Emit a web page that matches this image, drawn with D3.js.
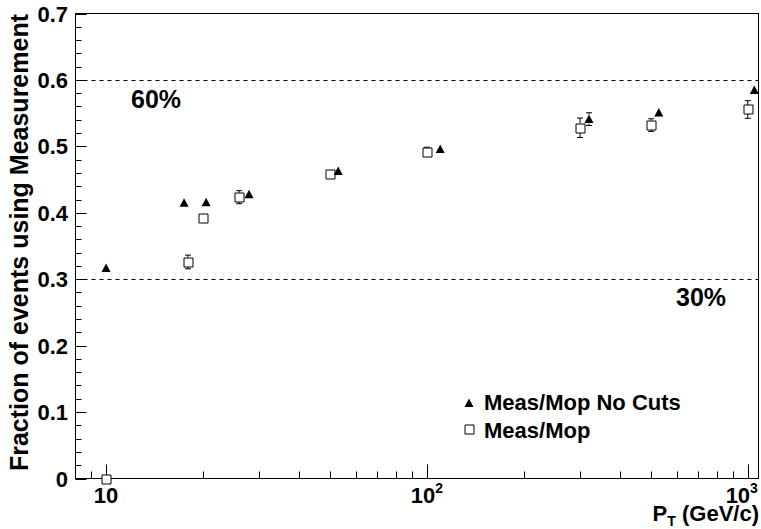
<!DOCTYPE html>
<html>
<head>
<meta charset="utf-8">
<script src="https://cdn.jsdelivr.net/npm/d3@7"></script>
<style>
  html, body { margin: 0; padding: 0; background: #fff; }
  svg { display: block; }
  text { font-family: "Liberation Sans", Arial, Helvetica, sans-serif; font-weight: bold; fill: #000; }
</style>
</head>
<body>
<svg id="chart" width="761" height="529"></svg>
<script>
// Fraction of events using the measurement vs. transverse momentum
const ptNoCuts   = [10, 17.5, 20.5, 27.9, 52.9, 110, 320, 528, 1048];
const fracNoCuts = [0.317, 0.415, 0.416, 0.428, 0.463, 0.496, 0.541, 0.551, 0.585];
const errNoCuts  = [0.003, 0.004, 0.004, 0.004, 0.004, 0.005, 0.0095, 0.006, 0.006];

const ptMop   = [10, 18, 20, 26, 50, 100, 300, 500, 1000];
const fracMop = [0, 0.326, 0.392, 0.4235, 0.459, 0.4917, 0.528, 0.532, 0.5555];
const errMop  = [0, 0.0103, 0.005, 0.0098, 0.006, 0.007, 0.0146, 0.0095, 0.0133];

const refLevels = [0.6, 0.3];
const refLabels = ["60%", "30%"];

const yTicks = [0, 0.1, 0.2, 0.3, 0.4, 0.5, 0.6, 0.7];
const yTickLabels = ["0", "0.1", "0.2", "0.3", "0.4", "0.5", "0.6", "0.7"];
const xMajor = [10, 100, 1000];
const xMajorBase = ["10", "10", "10"];
const xMajorExp = ["", "2", "3"];
const xMinor = [9, 20, 30, 40, 50, 60, 70, 80, 90, 200, 300, 400, 500, 600, 700, 800, 900];

const legendNames = ["Meas/Mop No Cuts", "Meas/Mop"];

const svg = d3.select("#chart");
const L = 75.5, R = 758.5, T = 13.5, B = 478.5;

const x = d3.scaleLog().domain([8.03, 1080]).range([L, R]);
const y = d3.scaleLinear().domain([0, 0.7]).range([B, T]);

// frame
svg.append("rect").attr("x", L).attr("y", T).attr("width", R - L).attr("height", B - T)
  .attr("fill", "none").attr("stroke", "#000").attr("stroke-width", 1);

// y axis ticks (major 0.1, minor 0.02)
const yMinor = d3.range(0, 0.7001, 0.02).filter(v => Math.abs(v * 10 - Math.round(v * 10)) > 1e-6);
const gy = svg.append("g");
gy.selectAll("line.maj").data(yTicks).join("line")
  .attr("x1", L).attr("x2", L + 11)
  .attr("y1", d => Math.round(y(d)) + 0.5).attr("y2", d => Math.round(y(d)) + 0.5)
  .attr("stroke", "#000");
gy.selectAll("line.min").data(yMinor).join("line")
  .attr("x1", L).attr("x2", L + 6)
  .attr("y1", d => Math.round(y(d)) + 0.5).attr("y2", d => Math.round(y(d)) + 0.5)
  .attr("stroke", "#000");
gy.selectAll("text").data(yTicks).join("text")
  .attr("x", 68).attr("y", d => y(d) + 8)
  .attr("text-anchor", "end").attr("font-size", 22)
  .text((d, i) => yTickLabels[i]);

// x axis ticks (log)
const gx = svg.append("g");
gx.selectAll("line.maj").data(xMajor).join("line")
  .attr("x1", d => Math.round(x(d)) + 0.5).attr("x2", d => Math.round(x(d)) + 0.5)
  .attr("y1", B).attr("y2", B - 14).attr("stroke", "#000");
gx.selectAll("line.min").data(xMinor).join("line")
  .attr("x1", d => Math.round(x(d)) + 0.5).attr("x2", d => Math.round(x(d)) + 0.5)
  .attr("y1", B).attr("y2", B - 7).attr("stroke", "#000");
const xl = gx.selectAll("text").data(xMajor).join("text")
  .attr("x", (d, i) => x(d) + (i === 2 ? -6 : 0)).attr("y", 503)
  .attr("text-anchor", "middle").attr("font-size", 22);
xl.append("tspan").text((d, i) => xMajorBase[i]);
xl.append("tspan").attr("font-size", 14).attr("dy", -10).text((d, i) => xMajorExp[i]);

// axis titles
const xt = svg.append("text").attr("x", 759).attr("y", 521).attr("text-anchor", "end").attr("font-size", 22);
xt.append("tspan").text("P");
xt.append("tspan").attr("font-size", 14).attr("dy", 5).text("T");
xt.append("tspan").attr("dy", -5).text(" (GeV/c)");

svg.append("text")
  .attr("transform", "translate(28,14) rotate(-90)")
  .attr("text-anchor", "end").attr("font-size", 25)
  .text("Fraction of events using Measurement");

// reference levels
svg.selectAll("line.ref").data(refLevels).join("line")
  .attr("x1", L).attr("x2", R)
  .attr("y1", d => Math.round(y(d)) + 0.5).attr("y2", d => Math.round(y(d)) + 0.5)
  .attr("stroke", "#000").attr("stroke-dasharray", "4,4");
svg.append("text").attr("x", 131).attr("y", y(refLevels[0]) + 28).attr("font-size", 25).text(refLabels[0]);
svg.append("text").attr("x", 676).attr("y", y(refLevels[1]) + 27).attr("font-size", 25).text(refLabels[1]);

// error bars drawn outside the marker, with small caps
const half = 4.5;
function errorBars(g, xs, vs, es) {
  xs.forEach((p, i) => {
    const cx = x(p), cy = y(vs[i]);
    const top = y(vs[i] + es[i]), bot = Math.min(y(vs[i] - es[i]), B);
    if (cy - top > half) {
      g.append("line").attr("x1", cx).attr("x2", cx).attr("y1", cy - half).attr("y2", top).attr("stroke", "#000");
      g.append("line").attr("x1", cx - 3).attr("x2", cx + 3).attr("y1", top).attr("y2", top).attr("stroke", "#000");
    }
    if (bot - cy > half) {
      g.append("line").attr("x1", cx).attr("x2", cx).attr("y1", cy + half).attr("y2", bot).attr("stroke", "#000");
      g.append("line").attr("x1", cx - 3).attr("x2", cx + 3).attr("y1", bot).attr("y2", bot).attr("stroke", "#000");
    }
  });
}

const triPath = (cx, cy) => `M${cx - 4.5},${cy + 4}L${cx + 4.5},${cy + 4}L${cx},${cy - 4.5}Z`;
const sqPath = (cx, cy) => `M${cx - 4.5},${cy - 4.5}h9v9h-9Z`;

const gm = svg.append("g");
errorBars(gm, ptMop, fracMop, errMop);
gm.selectAll("path.sq").data(ptMop).join("path")
  .attr("d", (d, i) => sqPath(Math.round(x(d)) + 0.5, Math.round(y(fracMop[i])) + 0.5))
  .attr("fill", "#fff").attr("stroke", "#000").attr("stroke-width", 1);

const gn = svg.append("g");
errorBars(gn, ptNoCuts, fracNoCuts, errNoCuts);
gn.selectAll("path.tri").data(ptNoCuts).join("path")
  .attr("d", (d, i) => triPath(x(d), y(fracNoCuts[i])))
  .attr("fill", "#000");

// legend
const lg = svg.append("g");
lg.append("path").attr("d", triPath(469, 403)).attr("fill", "#000");
lg.append("path").attr("d", sqPath(469.5, 429.5)).attr("fill", "#fff").attr("stroke", "#000");
lg.append("text").attr("x", 484).attr("y", 410).attr("font-size", 22).text(legendNames[0]);
lg.append("text").attr("x", 484).attr("y", 438).attr("font-size", 22).text(legendNames[1]);
</script>
</body>
</html>
